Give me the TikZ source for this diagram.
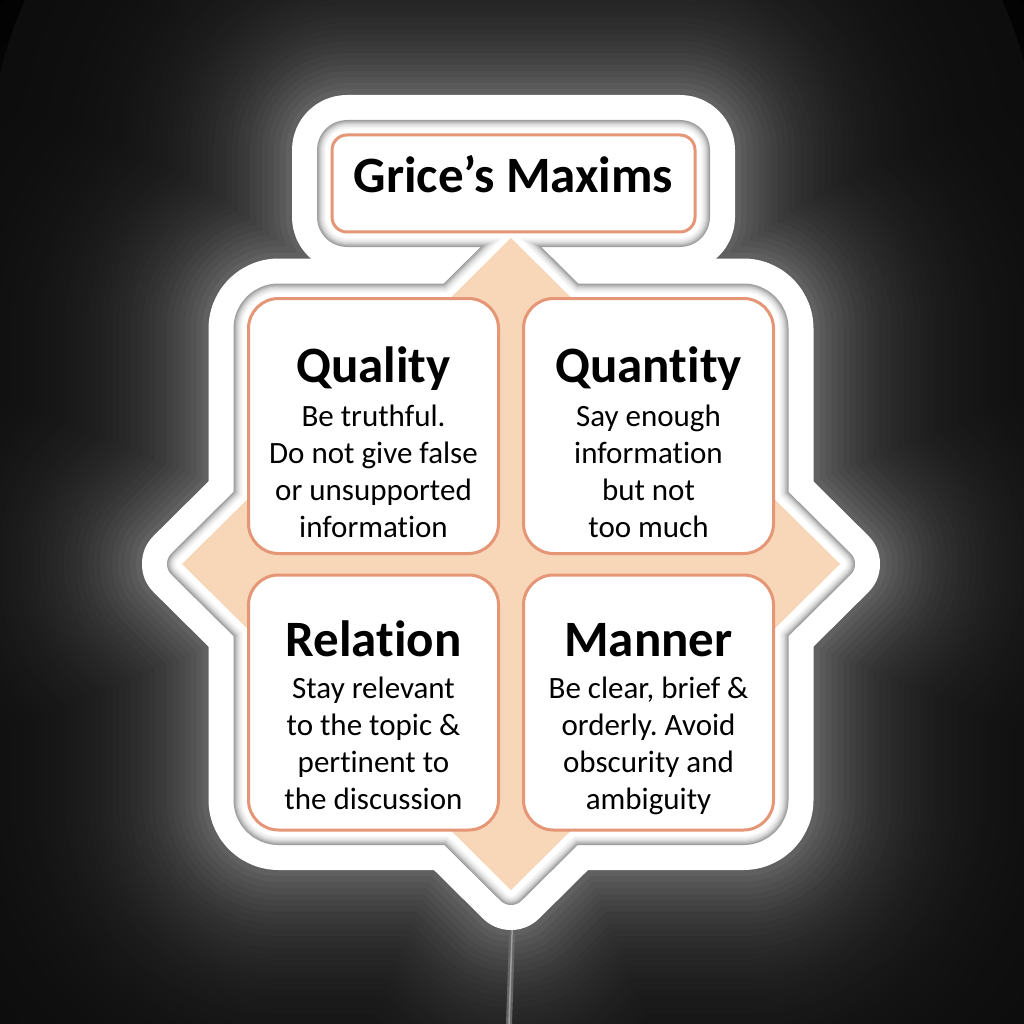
\documentclass[tikz,border=0pt]{standalone}
\usepackage{fontspec}
\setmainfont{Carlito}[Ligatures={NoCommon}]
\usetikzlibrary{calc}

\definecolor{peach}{RGB}{248,214,184}
\definecolor{edgesalmon}{RGB}{229,150,118}
\pgfdeclarelayer{back}
\pgfsetlayers{back,main}

% outline of the sticker: title box, the four boxes and the diamond
\newcommand\stickerparts[1]{%
  \foreach \part/\rad in {title/15, quality/30, quantity/30, relation/30, manner/30}
    \draw[#1, rounded corners=\rad pt] (\part.north west) rectangle (\part.south east);
  \draw[#1] (dtop) -- (dright) -- (dbottom) -- (dleft) -- cycle;}

\begin{document}
\frenchspacing
\begin{tikzpicture}[x=1pt, y=-1pt,
  maxim/.style={draw=edgesalmon, line width=3pt, fill=white, rounded corners=30pt,
    minimum width=250pt, minimum height=255pt, inner sep=0pt, outer sep=0pt},
  titlebox/.style={draw=edgesalmon, line width=3pt, fill=white, rounded corners=15pt,
    minimum width=363pt, minimum height=97pt, inner sep=0pt, outer sep=0pt,
    font=\fontsize{51}{60}\selectfont\bfseries, text height=33pt, text depth=14pt},
  head/.style={font=\fontsize{51}{60}\selectfont\bfseries, inner sep=0pt, anchor=base},
  body/.style={font=\fontsize{31}{37}\selectfont, align=center, inner sep=0pt, anchor=north},
  cable/.style={draw=white!40!black, line width=6pt}]
\useasboundingbox (0,0) rectangle (1024,1024);

% diamond corners
\coordinate (dtop) at (511,238);
\coordinate (dright) at (840,564);
\coordinate (dbottom) at (511,890);
\coordinate (dleft) at (182,564);
\coordinate (mid) at (512,540);
\coordinate (plug) at (513,905);
\coordinate (cableend) at (509,1024);

\node[titlebox] (title) at (513.5,183.5) {Grice’s Maxims};
\node[maxim] (quality) at (373.5,426) {};
\node[maxim] (quantity) at (648.5,426) {};
\node[maxim] (relation) at (373.5,702.5) {};
\node[maxim] (manner) at (648.5,702.5) {};

\node[head] (qualityH) at ($(quality.north)+(0,84)$) {Quality};
\node[body] (qualityB) at ($(quality.north)+(0,103)$) {\rule{0pt}{25pt}Be truthful.\\Do not give false\\or unsupported\\information};
\node[head] (quantityH) at ($(quantity.north)+(0,84)$) {Quantity};
\node[body] (quantityB) at ($(quantity.north)+(0,103)$) {\rule{0pt}{25pt}Say enough\\information\\but not\\too much};
\node[head] (relationH) at ($(relation.north)+(0,81)$) {Relation};
\node[body] (relationB) at ($(relation.north)+(0,98)$) {\rule{0pt}{25pt}Stay relevant\\to the topic \&\\pertinent to\\the discussion};
\node[head] (mannerH) at ($(manner.north)+(0,81)$) {Manner};
\node[body] (mannerB) at ($(manner.north)+(0,98)$) {\rule{0pt}{25pt}Be clear, brief \&\\orderly. Avoid\\obscurity and\\ambiguity};

\begin{pgfonlayer}{back}
  % dark background, black towards the corners
  \fill[black] (0,0) rectangle (1024,1024);
  \foreach \r/\g in {740/1, 710/2, 680/3, 650/4, 620/5}
    \fill[white!\g!black] (mid) circle (\r);
  % glow round the sticker
  \foreach \d in {300,294,...,0}{
    \pgfmathsetmacro\glow{5+36*(exp(-\d/75)-exp(-4))}
    \stickerparts{draw=white!\glow!black, line width=80pt+2*\d pt, line join=round}}
  \draw[cable] (plug) -- (cableend);
  \draw[draw=white!62!black, line width=1.5pt] (plug) -- (cableend);
  % white rim, then the recessed grey edge
  \stickerparts{draw=white, fill=white, line width=80pt, line join=round}
  \foreach \w/\g in {30/62, 28/68, 26/74, 24/80, 22/85, 20/89, 18/92, 16/95, 14/97, 12/100}
    {\stickerparts{draw=white!\g!black, line width=\w pt, line join=round}}
  \fill[peach] (dtop) -- (dright) -- (dbottom) -- (dleft) -- cycle;
\end{pgfonlayer}
\end{tikzpicture}
\end{document}
